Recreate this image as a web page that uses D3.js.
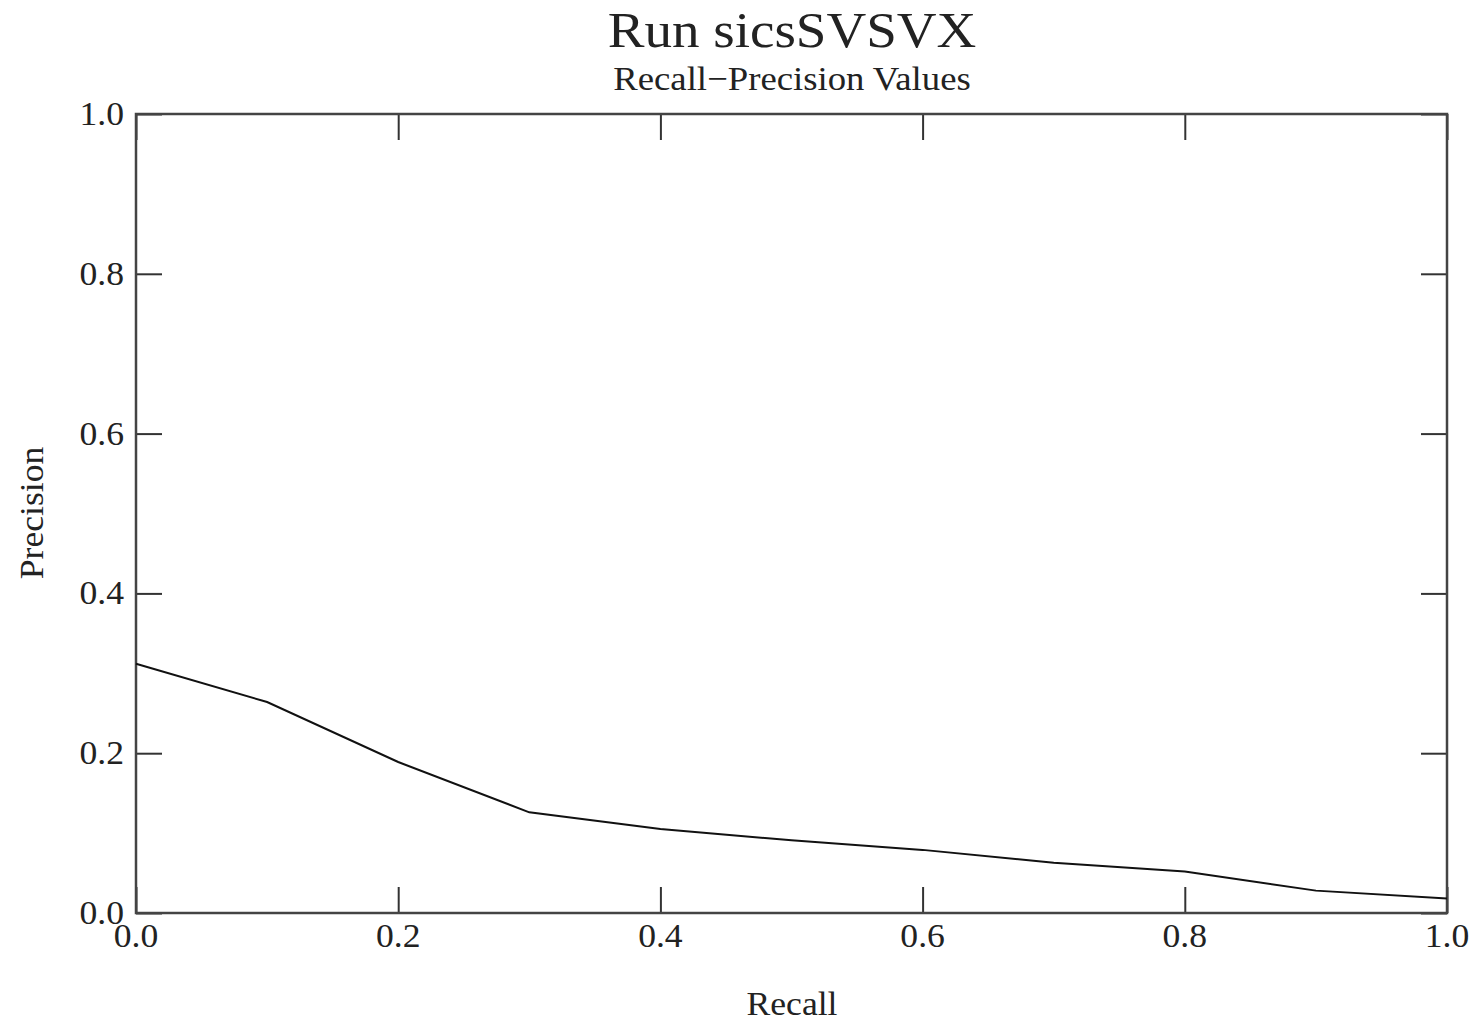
<!DOCTYPE html>
<html>
<head>
<meta charset="utf-8">
<script src="https://cdn.jsdelivr.net/npm/d3@7"></script>
<style>
  body { margin: 0; background: #fff; }
  svg text { font-family: "Liberation Serif", "DejaVu Serif", serif; fill: #222; }
</style>
</head>
<body>
<svg id="chart" width="1482" height="1023"></svg>
<script>
// recall levels and the interpolated precision
const recall = [0.0, 0.1, 0.2, 0.3, 0.4, 0.5, 0.6, 0.7, 0.8, 0.9, 1.0];
const precision = [0.312, 0.264, 0.189, 0.126, 0.105, 0.091, 0.079, 0.063, 0.052, 0.028, 0.018];
const tickValues = [0.0, 0.2, 0.4, 0.6, 0.8, 1.0];

const svg = d3.select("#chart");
const margin = {left: 136, right: 35, top: 114, bottom: 110};
const W = 1482, H = 1023;

const x = d3.scaleLinear().domain([0, 1]).range([margin.left, W - margin.right]);
const y = d3.scaleLinear().domain([0, 1]).range([H - margin.bottom, margin.top]);

const fmt = d3.format(".1f");
const tickLen = 26;
const stretch = 1.08; // the original text is a bit wide

// place text with a small horizontal stretch
function put(sel, px, py, rot) {
  return sel.attr("transform", "translate(" + px + "," + py + ")" + (rot ? " rotate(" + rot + ")" : "") + " scale(" + stretch + ",1)");
}

// ticks on all four sides point inward
svg.append("g")
  .attr("transform", "translate(0," + y(0) + ")")
  .call(d3.axisTop(x).tickValues(tickValues).tickSize(tickLen).tickFormat(""))
  .call(g => g.select(".domain").remove());
svg.append("g")
  .attr("transform", "translate(0," + y(1) + ")")
  .call(d3.axisBottom(x).tickValues(tickValues).tickSize(tickLen).tickFormat(""))
  .call(g => g.select(".domain").remove());
svg.append("g")
  .attr("transform", "translate(" + x(0) + ",0)")
  .call(d3.axisRight(y).tickValues(tickValues).tickSize(tickLen).tickFormat(""))
  .call(g => g.select(".domain").remove());
svg.append("g")
  .attr("transform", "translate(" + x(1) + ",0)")
  .call(d3.axisLeft(y).tickValues(tickValues).tickSize(tickLen).tickFormat(""))
  .call(g => g.select(".domain").remove());

svg.selectAll(".tick line").attr("stroke", "#333").attr("stroke-width", 2);

// frame
svg.append("rect")
  .attr("x", x(0)).attr("y", y(1))
  .attr("width", x(1) - x(0)).attr("height", y(0) - y(1))
  .attr("fill", "none").attr("stroke", "#444").attr("stroke-width", 2.5);

// tick labels
svg.append("g").selectAll("text")
  .data(tickValues)
  .join("text")
  .each(function(d) { put(d3.select(this), x(d), y(0) + 34); })
  .attr("text-anchor", "middle")
  .style("font-size", "33px")
  .text(d => fmt(d));

svg.append("g").selectAll("text")
  .data(tickValues)
  .join("text")
  .each(function(d) { put(d3.select(this), x(0) - 12, y(d) + 11); })
  .attr("text-anchor", "end")
  .style("font-size", "33px")
  .text(d => fmt(d));

// the curve
svg.append("path")
  .datum(recall.map((r, i) => [r, precision[i]]))
  .attr("fill", "none")
  .attr("stroke", "#111")
  .attr("stroke-width", 2)
  .attr("d", d3.line().x(d => x(d[0])).y(d => y(d[1])));

// titles
put(svg.append("text"), 792, 47)
  .attr("text-anchor", "middle")
  .style("font-size", "51px")
  .text("Run sicsSVSVX");

put(svg.append("text"), 792, 90)
  .attr("text-anchor", "middle")
  .style("font-size", "34px")
  .text("Recall\u2212Precision Values");

put(svg.append("text"), 792, 1015)
  .attr("text-anchor", "middle")
  .style("font-size", "33px")
  .text("Recall");

svg.append("text")
  .attr("transform", "translate(43,513) rotate(-90) scale(" + stretch + ",1)")
  .attr("text-anchor", "middle")
  .style("font-size", "33px")
  .text("Precision");
</script>
</body>
</html>
